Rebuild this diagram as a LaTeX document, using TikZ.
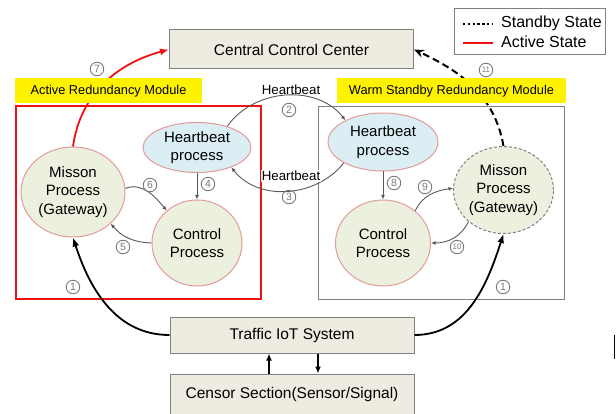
\documentclass[tikz,border=0pt]{standalone}
\usepackage{fontspec}
\setmainfont{Liberation Sans}
\usetikzlibrary{shapes.geometric,arrows.meta}
\definecolor{boxfill}{HTML}{EEECE1}
\definecolor{boxdraw}{HTML}{808080}
\definecolor{circfill}{HTML}{EBF1DE}
\definecolor{hbfill}{HTML}{DAEEF3}
\definecolor{ellborder}{HTML}{E39A9A}
\definecolor{arrgray}{HTML}{595959}
\definecolor{numgray}{HTML}{7A7A7A}
\definecolor{redline}{HTML}{F01010}
\begin{document}
\begin{tikzpicture}[x=1pt,y=1pt,
  bigbox/.style={draw=boxdraw, fill=boxfill, line width=1pt, minimum width=244pt, minimum height=37pt, inner sep=0pt, font=\fontsize{15.5}{18}\selectfont},
  proc/.style={ellipse, draw=ellborder, line width=1pt, fill=circfill, align=center, inner sep=0pt, font=\fontsize{15}{18.5}\selectfont},
  hbproc/.style={proc, fill=hbfill},
  ylab/.style={fill=yellow, inner sep=0pt, minimum height=25pt, font=\fontsize{12.8}{14}\selectfont},
  num/.style={circle, draw=numgray, text=numgray, inner sep=0pt, minimum size=13.5pt, font=\fontsize{10.5}{10.5}\selectfont, line width=0.9pt},
  numsm/.style={num, font=\fontsize{8}{8}\selectfont},
  thinarr/.style={draw=arrgray, line width=0.9pt, -{Latex[length=4.5pt,width=4pt]}},
  thickarr/.style={line width=1.8pt, -{Latex[length=9pt,width=7pt]}},
  hblab/.style={font=\fontsize{13.3}{15}\selectfont, inner sep=1pt},
]
\useasboundingbox (0,0) rectangle (616,-414);

% module frames
\node[draw=redline, line width=1.8pt, minimum width=245pt, minimum height=193pt, inner sep=0pt] (redbox) at (138.5,-202.5) {};
\node[draw=boxdraw, line width=1pt, minimum width=246pt, minimum height=192pt, inner sep=0pt] (graybox) at (441,-203) {};

% main boxes
\node[bigbox, minimum height=39pt] (ccc) at (291.5,-49.5) {Central Control Center};
\node[bigbox, minimum height=36pt] (traffic) at (292,-335) {Traffic IoT System};
\node[bigbox, minimum height=40pt] (censor) at (292,-394) {Censor Section(Sensor/Signal)};

% legend
\node[draw=boxdraw, line width=1pt, minimum width=151pt, minimum height=46pt, inner sep=0pt] (legend) at (529.5,-32) {};
\coordinate (lgA) at (463,-24);
\coordinate (lgB) at (493,-24);
\coordinate (lgC) at (463,-43);
\coordinate (lgD) at (493,-43);
\draw[line width=2.4pt, dash pattern=on 2.4pt off 2.4pt] (lgA) -- (lgB);
\draw[redline, line width=2.4pt] (lgC) -- (lgD);
\node[anchor=west, inner sep=0pt, font=\fontsize{16}{18}\selectfont] (lgstandby) at (501,-23) {Standby State};
\node[anchor=west, inner sep=0pt, font=\fontsize{16}{18}\selectfont] (lgactive) at (501,-42) {Active State};

% processes
\node[proc, minimum width=104pt, minimum height=90pt] (mpL) at (73,-192) {Misson\\Process\\(Gateway)};
\node[hbproc, minimum width=108pt, minimum height=50pt] (hbL) at (197,-147.5) {Heartbeat\\process};
\node[proc, minimum width=90pt, minimum height=86pt] (cpL) at (197,-243) {Control\\Process};

\node[hbproc, minimum width=110pt, minimum height=58pt] (hbR) at (383,-142) {Heartbeat\\process};
\node[proc, minimum width=95pt, minimum height=86pt] (cpR) at (383,-243) {Control\\Process};
\node[proc, draw=gray, densely dashed, minimum width=100pt, minimum height=87pt] (mpR) at (503.5,-190) {Misson\\Process\\(Gateway)};

% internal arrows left
\draw[thinarr] (hbL.south) -- (cpL.north);
\draw[thinarr] (mpL.4) to[out=20,in=130] (cpL.133);
\draw[thinarr] (cpL.180) to[out=178,in=-50] (mpL.-40);
% internal arrows right
\draw[thinarr] (hbR.south) -- (cpR.north);
\draw[thinarr] (cpR.45) to[out=65,in=188] (mpR.178);
\draw[thinarr] (mpR.222) to[out=-115,in=0] (cpR.0);

% heartbeat arcs
\draw[thinarr] (hbL.35) to[out=55,in=128] (hbR.150);
\draw[thinarr] (hbR.208) to[out=-128,in=-52] (hbL.-30);

% outer connections
\draw[redline, thickarr] (mpL.north) to[out=82,in=195] (ccc.west);
\draw[line width=2pt, dash pattern=on 7pt off 4pt, -{Stealth[length=10pt,width=8pt]}] (mpR.north) to[out=100,in=-25] (ccc.east);
\draw[thickarr] (traffic.west) to[out=180,in=-72] (mpL.south);
\draw[thickarr] (traffic.east) to[out=0,in=-108] (mpR.south);
\draw[line width=1.5pt, -{Latex[length=7pt,width=6pt]}] ([xshift=-23pt]censor.north) -- ([xshift=-23pt]traffic.south);
\draw[line width=1.5pt, -{Latex[length=7pt,width=6pt]}] ([xshift=26pt]traffic.south) -- ([xshift=26pt]censor.north);

% yellow module labels (on top of the curves)
\node[ylab, minimum width=187pt] (labL) at (108.5,-91) {Active Redundancy Module};
\node[ylab, minimum width=229pt] (labR) at (451.5,-91) {Warm Standby Redundancy Module};

% heartbeat labels
\node[hblab] (hbtop) at (291,-90) {Heartbeat};
\node[hblab, fill=white] (hbbot) at (291,-176) {Heartbeat};

% step numbers
\node[num] (n1L) at (73,-287) {1};
\node[num] (n1R) at (503,-287) {1};
\node[num] (n2) at (289,-110) {2};
\node[num] (n3) at (289,-197) {3};
\node[num] (n4) at (208,-184) {4};
\node[num] (n5) at (123,-247) {5};
\node[num] (n6) at (150,-185) {6};
\node[num] (n7) at (97,-69) {7};
\node[num] (n8) at (394,-183) {8};
\node[num] (n9) at (425,-187) {9};
\node[numsm] (n10) at (457,-247) {10};
\node[numsm] (n11) at (486,-70) {11};

% small mark at right edge
\coordinate (mkA) at (614.5,-335);
\coordinate (mkB) at (614.5,-359);
\draw[line width=1.5pt] (mkA) -- (mkB);
\end{tikzpicture}
\end{document}
